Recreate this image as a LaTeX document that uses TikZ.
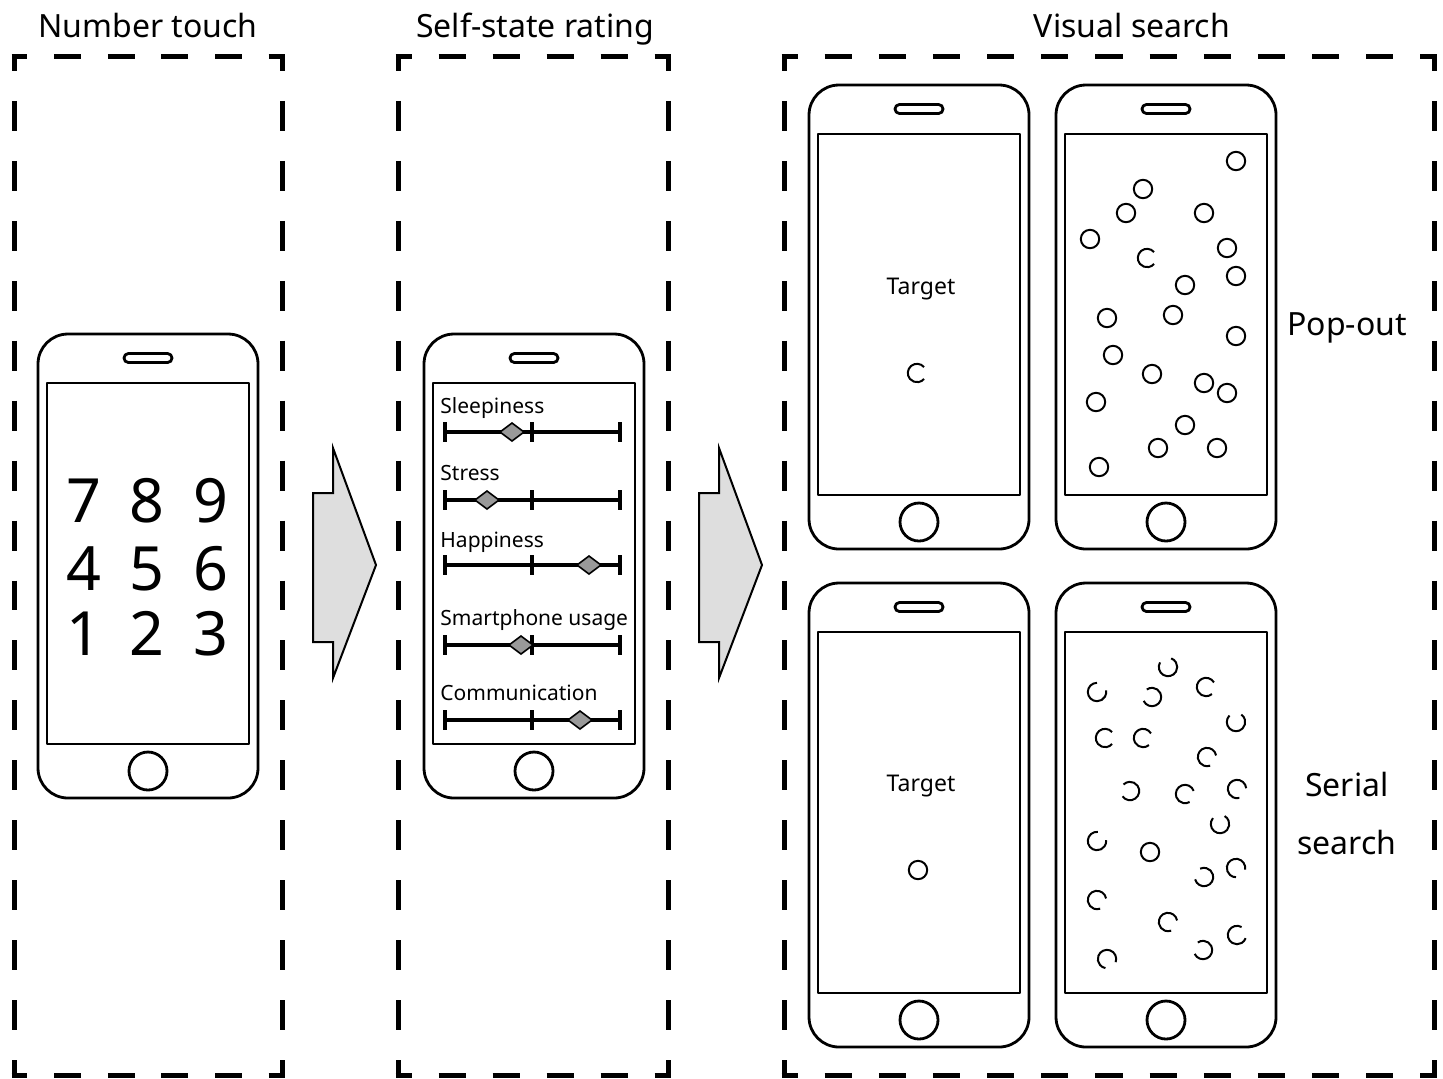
\documentclass[tikz,border=0pt]{standalone}
\usepackage{fontspec}
\setmainfont{Noto Sans}
\tikzset{
 phoneline/.style={line width=1.4pt, line join=round},
 boxline/.style={line width=2.5pt, line cap=butt},
 ttl/.style={font=\fontsize{16}{19}\selectfont, anchor=base, inner sep=0pt},
 digit/.style={font=\fontsize{30.5}{36}\selectfont, anchor=base, inner sep=0pt},
 lbl/.style={font=\fontsize{10.5}{12}\selectfont, anchor=base west, inner sep=0pt},
 tgt/.style={font=\fontsize{11.5}{14}\selectfont, anchor=base, inner sep=0pt},
 sliderline/.style={line width=2pt},
 knob/.style={fill=black!40, draw=black, line width=0.8pt, line join=miter},
 stim/.style={line width=1pt},
 blockarrow/.style={fill=black!13, draw=black, line width=1pt, line join=miter},
}
\newcommand\myphone[2]{%
 \draw[phoneline, rounded corners=15pt] (#1,#2) rectangle ++(220,464);
 \draw[phoneline] (#1+9,#2+49) rectangle (#1+211,#2+410);
 \draw[phoneline, rounded corners=2.2pt] (#1+86,#2+19.5) rectangle (#1+134,#2+28.5);
 \draw[phoneline] (#1+110,#2+437) circle[radius=9.5pt];
}
\newcommand\myslider[2]{%
 \draw[sliderline] (445,#1) -- (620,#1);
 \foreach \tx in {445,532,620} {\draw[sliderline] (\tx,#1-10) -- (\tx,#1+10);}
 \draw[knob] (#2-12,#1) -- (#2,#1-9) -- (#2+12,#1) -- (#2,#1+9) -- cycle;
}
\newcommand\hside[4]{%
 \pgfmathsetmacro\dD{(#2-#1)/#4*0.25}%
 \pgfmathsetmacro\dph{\dD/2-1.25}%
 \draw[boxline, dash pattern=on \dD pt off \dD pt, dash phase=\dph pt] (#1-2.5,#3) -- (#2+2.5,#3);}
\newcommand\vside[4]{%
 \pgfmathsetmacro\dD{(#2-#1)/#4*0.25}%
 \pgfmathsetmacro\dph{\dD/2}%
 \draw[boxline, dash pattern=on \dD pt off \dD pt, dash phase=\dph pt] (#3,#1) -- (#3,#2);}
\newcommand\cring[3]{%
 \pgfmathsetmacro\sa{#3+40}%
 \pgfmathsetmacro\ea{#3+320}%
 \draw[stim] (#1,#2) ++(\sa:4.6pt) arc[start angle=\sa, end angle=\ea, radius=4.6pt];}
\begin{document}
\begin{tikzpicture}[x=0.5pt,y=-0.5pt]
\useasboundingbox (0,0) rectangle (1443,1078);
% dashed boxes
\hside{14}{282}{56}{5}\hside{14}{282}{1075}{5}
\vside{56}{1075}{14}{17}\vside{56}{1075}{282}{17}
\hside{398}{668}{56}{5}\hside{398}{668}{1075}{5}
\vside{56}{1075}{398}{17}\vside{56}{1075}{668}{17}
\hside{784}{1434}{56}{12}\hside{784}{1434}{1075}{12}
\vside{56}{1075}{784}{17}\vside{56}{1075}{1434}{17}
% titles
\node[ttl] (t1) at (148,37) {Number touch};
\node[ttl] (t2) at (535,37) {Self-state rating};
\node[ttl] (t3) at (1132,37) {Visual search};
% block arrows
\draw[blockarrow] (313,493) -- (333,493) -- (333,448) -- (376,565) -- (333,678) -- (333,642) -- (313,642) -- cycle;
\draw[blockarrow] (699,493) -- (719,493) -- (719,448) -- (762,565) -- (719,678) -- (719,642) -- (699,642) -- cycle;
% phone 1
\myphone{38}{334}
\node[digit] (d7) at (84,522) {7};
\node[digit] (d8) at (147,522) {8};
\node[digit] (d9) at (211,522) {9};
\node[digit] (d4) at (84,590) {4};
\node[digit] (d5) at (147,590) {5};
\node[digit] (d6) at (211,590) {6};
\node[digit] (d1) at (84,655) {1};
\node[digit] (d2) at (147,655) {2};
\node[digit] (d3) at (211,655) {3};
% phone 2
\myphone{424}{334}
\node[lbl] (l1) at (440,413) {Sleepiness};
\myslider{432}{512}
\node[lbl] (l2) at (440,480) {Stress};
\myslider{500}{487}
\node[lbl] (l3) at (440,547) {Happiness};
\myslider{565}{589}
\node[lbl] (l4) at (440,625) {Smartphone usage};
\myslider{645}{521}
\node[lbl] (l5) at (440,700) {Communication};
\myslider{720}{580}
% visual search phones
\myphone{809}{85}
\myphone{1056}{85}
\myphone{809}{583}
\myphone{1056}{583}
\node[tgt] (tg1) at (921,294) {Target};
\cring{917}{373}{0}
\node[tgt] (tg2) at (921,791) {Target};
\draw[stim] (918,870) circle[radius=4.6pt];
% pop-out display
\foreach \cx/\cy in {1236/161,1143/189,1126/213,1204/213,1090/239,1227/248,1236/276,1185/285,1107/318,1173/315,1236/336,1113/355,1152/374,1204/383,1227/393,1096/402,1185/425,1158/448,1217/448,1099/467}
 {\draw[stim] (\cx,\cy) circle[radius=4.6pt];}
\cring{1147}{258}{0}
% serial display
\foreach \cx/\cy/\g in {1168/667/110,1097/692/50,1152/697/165,1206/687/-10,1236/722/95,1105/738/0,1143/738/-10,1207/757/-30,1130/791/175,1185/794/-20,1237/789/-35,1220/824/100,1097/841/45,1204/877/155,1236/868/-50,1097/900/-30,1168/922/-30,1237/935/20,1203/950/165,1107/959/-60}
 {\cring{\cx}{\cy}{\g}}
\draw[stim] (1150,852) circle[radius=4.6pt];
% side labels
\node[ttl] (po) at (1347,335) {Pop-out};
\node[ttl] (se1) at (1347,796) {Serial};
\node[ttl] (se2) at (1347,854) {search};
\end{tikzpicture}
\end{document}
